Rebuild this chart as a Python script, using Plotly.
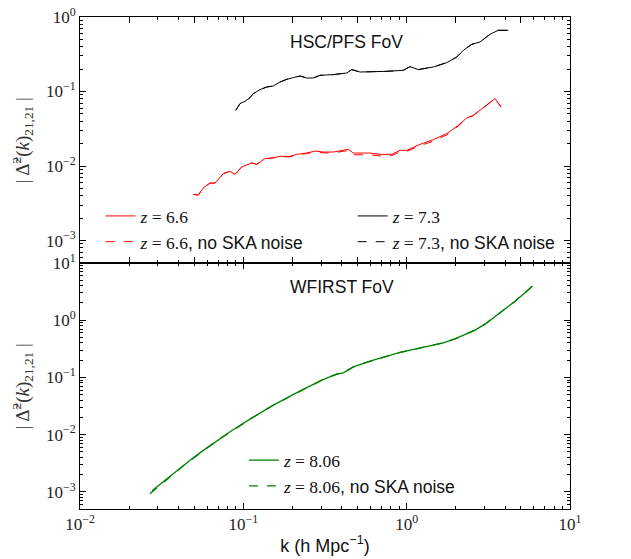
import plotly.graph_objects as go

# ---------------- data ----------------
# z = 7.3 (HSC/PFS FoV)
k_z73 = [0.0898, 0.0954, 0.1024, 0.1099, 0.1151, 0.1265, 0.139, 0.1526, 0.1677, 0.1843,
         0.2023, 0.2223, 0.2443, 0.2683, 0.2947, 0.3554, 0.4295, 0.4608, 0.518, 0.625,
         0.7547, 0.9537, 1.048, 1.178, 1.456, 1.759, 2.025, 2.223, 2.502, 2.812,
         3.237, 3.639, 4.19]
d_z73 = [0.0559, 0.0688, 0.0739, 0.0828, 0.0937, 0.106, 0.115, 0.1186, 0.1341, 0.1458,
         0.1537, 0.1614, 0.1518, 0.1518, 0.165, 0.1686, 0.1772, 0.1968, 0.1827, 0.1827,
         0.1867, 0.1926, 0.2159, 0.1968, 0.2133, 0.2443, 0.2904, 0.3573, 0.43, 0.4618,
         0.5858, 0.663, 0.663]
d_z73_noska = [0.0559, 0.0688, 0.0739, 0.0828, 0.0937, 0.106, 0.115, 0.1186, 0.1341, 0.1458,
               0.1537, 0.1614, 0.1518, 0.1518, 0.165, 0.1686, 0.1772, 0.1968, 0.1827, 0.1827,
               0.1867, 0.1926, 0.2159, 0.1968, 0.2133, 0.2443, 0.2904, 0.3573, 0.43, 0.4618,
               0.5858, 0.663, 0.663]

# z = 6.6 (HSC/PFS FoV)
k_z66 = [0.0494, 0.053, 0.0569, 0.0625, 0.0671, 0.0754, 0.0829, 0.0889, 0.0977, 0.1125,
         0.1208, 0.1357, 0.1492, 0.1677, 0.1931, 0.2122, 0.2443, 0.2747, 0.3088, 0.3554,
         0.4393, 0.4714, 0.5963, 0.6866, 0.81, 0.9103, 1.0, 1.207, 1.456, 1.759,
         2.071, 2.331, 2.559, 2.946, 3.474, 3.781]
d_z66 = [0.00417, 0.00408, 0.0051, 0.00591, 0.00591, 0.0079, 0.00849, 0.00774, 0.0097, 0.011,
         0.01054, 0.01257, 0.0128, 0.0135, 0.0135, 0.01436, 0.01495, 0.0159, 0.01542, 0.01542,
         0.01676, 0.01495, 0.01495, 0.01436, 0.01436, 0.01625, 0.01625, 0.01956, 0.02262, 0.02722,
         0.0352, 0.0441, 0.0479, 0.0608, 0.0803, 0.0619]
d_z66_noska = [0.00417, 0.00408, 0.0051, 0.00591, 0.00591, 0.0079, 0.00849, 0.00774, 0.0097, 0.011,
               0.01054, 0.01257, 0.0128, 0.0133, 0.0133, 0.0141, 0.0147, 0.0155, 0.0150, 0.0150,
               0.0162, 0.0142, 0.0141, 0.0137, 0.0138, 0.0155, 0.0157, 0.0188, 0.0216, 0.0262,
               0.0345, 0.0436, 0.0476, 0.0605, 0.0803, 0.0619]

# z = 8.06 (WFIRST FoV)
k_z806 = [0.0276, 0.0318, 0.0366, 0.0421, 0.0485, 0.0558, 0.0643, 0.074, 0.0852, 0.113,
          0.1498, 0.1986, 0.2454, 0.302, 0.3728, 0.4094, 0.4714, 0.625, 0.9103, 1.264,
          1.676, 1.977, 2.276, 2.62, 3.018, 3.474, 4.0, 4.606, 5.303, 5.88]
d_z806 = [0.00104, 0.00145, 0.00201, 0.00277, 0.00377, 0.00509, 0.00679, 0.00897, 0.0118, 0.0196,
          0.0317, 0.0489, 0.0664, 0.0897, 0.1142, 0.120, 0.153, 0.2004, 0.273, 0.334,
          0.402, 0.470, 0.552, 0.669, 0.852, 1.151, 1.556, 2.146, 3.02, 3.92]
k_z806_noska = [0.0268, 0.0318, 0.0366, 0.0421, 0.0485, 0.0558, 0.0643, 0.074, 0.0852, 0.113,
                0.1498, 0.1986, 0.2454, 0.302, 0.3728, 0.4094, 0.4714, 0.625, 0.9103, 1.264,
                1.676, 1.977, 2.276, 2.62, 3.018, 3.474, 4.0, 4.606, 5.303, 5.88]
d_z806_noska = [0.00092, 0.00140, 0.00197, 0.00273, 0.00372, 0.00505, 0.00675, 0.00893, 0.0117, 0.0195,
                0.0316, 0.0488, 0.0663, 0.0896, 0.1141, 0.1195, 0.153, 0.2004, 0.273, 0.334,
                0.402, 0.470, 0.552, 0.669, 0.852, 1.151, 1.556, 2.146, 3.02, 3.92]

x_tickvals = [0.01, 0.1, 1, 10]
x_ticktext = ["10<sup>\u22122</sup>", "10<sup>\u22121</sup>", "10<sup>0</sup>", "10<sup>1</sup>"]
y1_tickvals = [0.001, 0.01, 0.1, 1]
y1_ticktext = ["10<sup>\u22123</sup>", "10<sup>\u22122</sup>", "10<sup>\u22121</sup>", "10<sup>0</sup>"]
y2_tickvals = [0.001, 0.01, 0.1, 1, 10]
y2_ticktext = ["10<sup>\u22123</sup>", "10<sup>\u22122</sup>", "10<sup>\u22121</sup>", "10<sup>0</sup>", "10<sup>1</sup>"]

# ---------------- figure ----------------
SERIF = "Liberation Serif"
SANS = "Liberation Sans"
RED = "#ff0000"
GREEN = "#008000"

def lab(z, noska=False):
    s = f"<i>z</i> = {z}"
    if noska:
        s += f"<span style=\"font-family:{SANS}\">, no SKA noise</span>"
    return s

fig = go.Figure()
fig.add_trace(go.Scatter(x=k_z66, y=d_z66, mode="lines", line=dict(color=RED, width=1),
                         name=lab("6.6"), xaxis="x", yaxis="y", legend="legend"))
fig.add_trace(go.Scatter(x=k_z66, y=d_z66_noska, mode="lines", line=dict(color=RED, width=1, dash="dash"),
                         name=lab("6.6", True), xaxis="x", yaxis="y", legend="legend"))
fig.add_trace(go.Scatter(x=k_z73, y=d_z73, mode="lines", line=dict(color="black", width=1),
                         name=lab("7.3"), xaxis="x", yaxis="y", legend="legend2"))
fig.add_trace(go.Scatter(x=k_z73, y=d_z73_noska, mode="lines", line=dict(color="black", width=1, dash="dash"),
                         name=lab("7.3", True), xaxis="x", yaxis="y", legend="legend2"))
fig.add_trace(go.Scatter(x=k_z806, y=d_z806, mode="lines", line=dict(color=GREEN, width=1.3),
                         name=lab("8.06"), xaxis="x2", yaxis="y2", legend="legend3"))
fig.add_trace(go.Scatter(x=k_z806_noska, y=d_z806_noska, mode="lines", line=dict(color=GREEN, width=1.3, dash="dash"),
                         name=lab("8.06", True), xaxis="x2", yaxis="y2", legend="legend3"))

axis_common = dict(type="log", showline=True, linecolor="black", linewidth=1, mirror="ticks",
                   ticks="inside", ticklen=6, tickcolor="black", showgrid=False, zeroline=False,
                   automargin=False, ticklabeloverflow="allow",
                   minor=dict(ticks="inside", ticklen=3, tickcolor="black", dtick="D1", showgrid=False),
                   tickfont=dict(family=SERIF, size=17, color="#222"))

legend_common = dict(bgcolor="rgba(0,0,0,0)", borderwidth=0, font=dict(family=SERIF, size=17.5, color="#111"),
                     tracegroupgap=0, itemwidth=30, xanchor="left", yanchor="top")

ytitle = "| \u0394\u0303<sup>2</sup>(<i>k</i>)<sub>21,21</sub> |"
ytitle_font = dict(family=SERIF, size=19, color="#333")

# page has an 8px body margin, so the figure is 8px smaller than the window
fig.update_layout(
    width=623, height=551,
    margin=dict(l=72, r=61, t=9, b=50),
    paper_bgcolor="white", plot_bgcolor="white",
    xaxis=dict(axis_common, domain=[0, 1], range=[-2, 1], anchor="y", showticklabels=False),
    yaxis=dict(axis_common, domain=[0.5, 1], range=[-3.30103, 0], anchor="x",
               tickmode="array", tickvals=y1_tickvals, ticktext=y1_ticktext),
    xaxis2=dict(axis_common, domain=[0, 1], range=[-2, 1], anchor="y2", matches="x",
                tickmode="array", tickvals=x_tickvals, ticktext=x_ticktext,
                title=dict(text="k (h Mpc<sup>\u22121</sup>)", font=dict(family=SANS, size=18, color="#111"),
                           standoff=5)),
    yaxis2=dict(axis_common, domain=[0, 0.5], range=[-3.30103, 1], anchor="x2",
                tickmode="array", tickvals=y2_tickvals, ticktext=y2_ticktext),
    legend=dict(legend_common, x=0.042, y=0.632),
    legend2=dict(legend_common, x=0.5565, y=0.632),
    legend3=dict(legend_common, x=0.3345, y=0.1357),
    showlegend=True,
    annotations=[
        dict(text="HSC/PFS FoV", xref="paper", yref="paper", x=0.544, y=0.950, showarrow=False,
             font=dict(family=SANS, size=17.5, color="#111"), xanchor="center", yanchor="middle"),
        dict(text="WFIRST FoV", xref="paper", yref="paper", x=0.534, y=0.452, showarrow=False,
             font=dict(family=SANS, size=17.5, color="#111"), xanchor="center", yanchor="middle"),
        dict(text=ytitle, xref="paper", yref="paper", x=-0.118, y=0.75, showarrow=False,
             textangle=-90, font=ytitle_font, xanchor="center", yanchor="middle"),
        dict(text=ytitle, xref="paper", yref="paper", x=-0.118, y=0.25, showarrow=False,
             textangle=-90, font=ytitle_font, xanchor="center", yanchor="middle"),
    ],
)

fig.write_html("out.html")
